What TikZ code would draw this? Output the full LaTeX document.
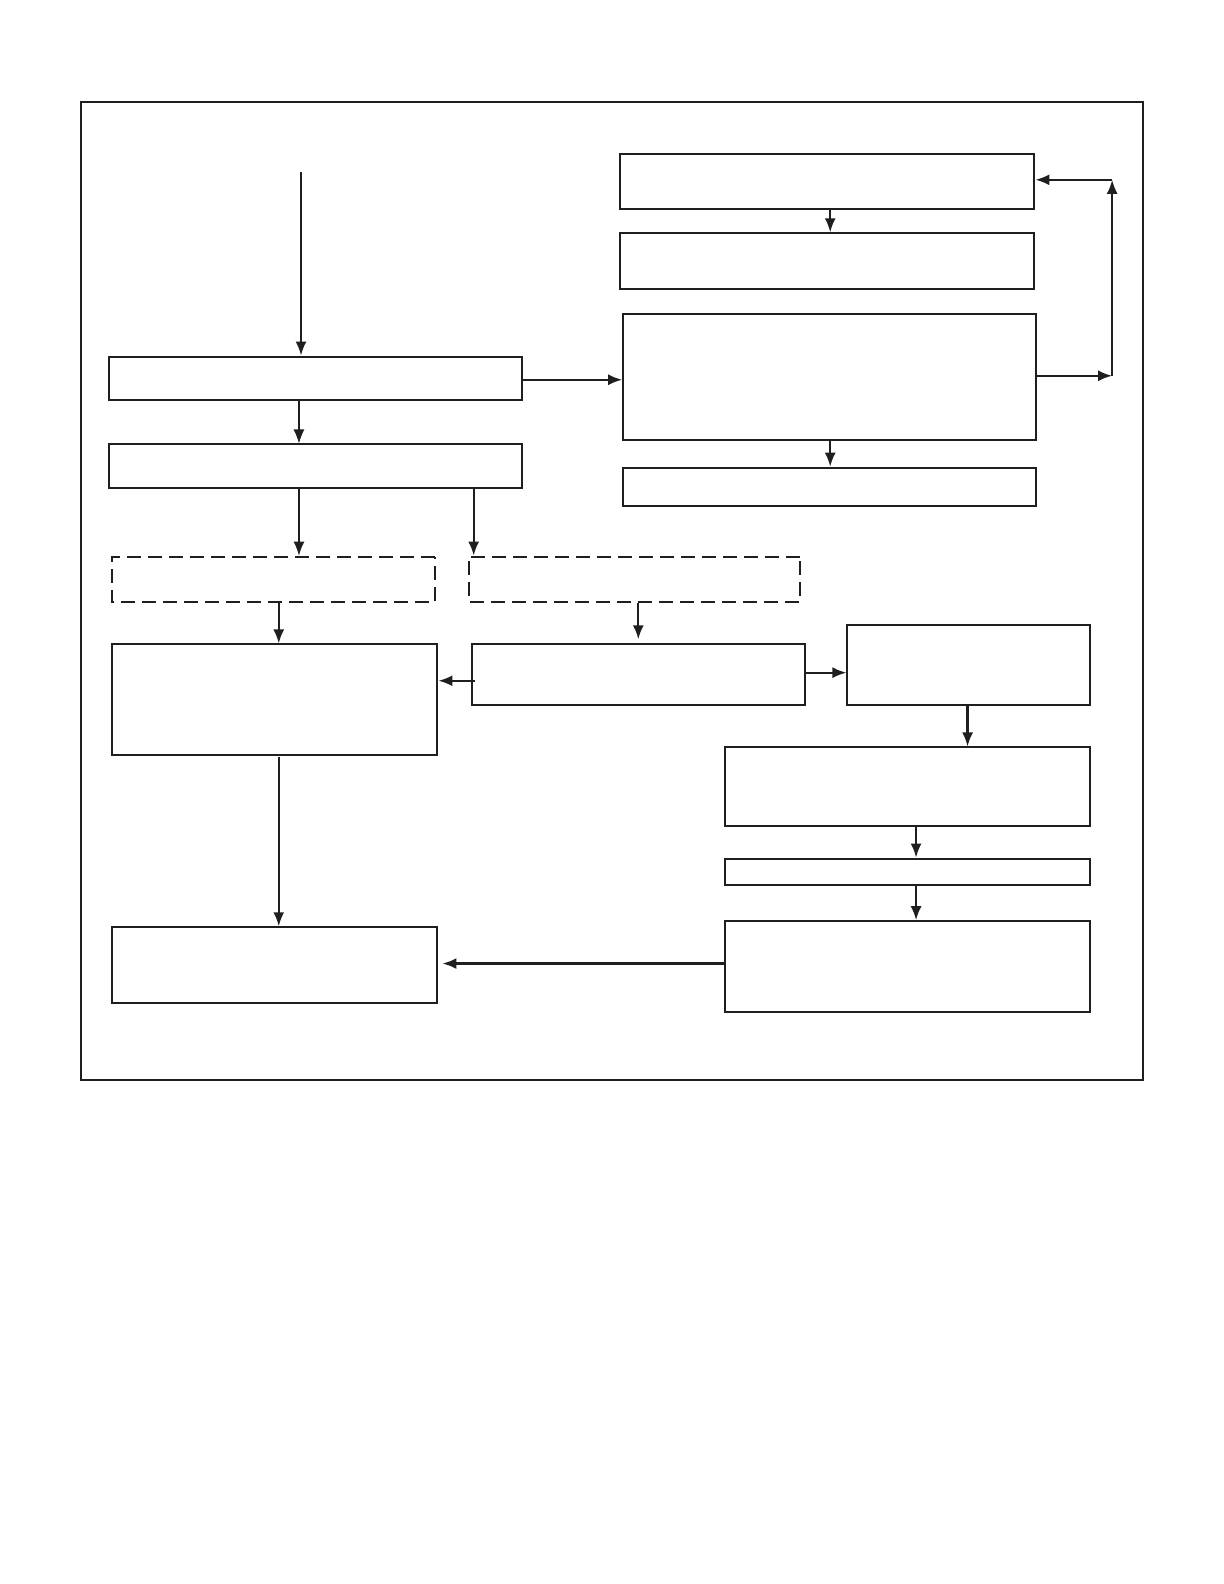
\documentclass[tikz,border=0pt]{standalone}
\usetikzlibrary{arrows.meta}

\begin{document}
\begin{tikzpicture}[x=0.5pt,y=-0.5pt,scale=1.01,every node/.append style={transform shape}]
            \tikzstyle{every node}+=[inner sep=0pt]
            \tikzstyle{box}=[draw, black!88, line width=1pt, rectangle]
            \tikzstyle{dbox}=[box, dash pattern=on 7pt off 3.5pt]
            \tikzstyle{arr}=[black!88, line width=1.1pt, -{Latex[length=7pt,width=5.5pt]}]
            \tikzstyle{thinarr}=[arr, line width=0.6pt]
            \useasboundingbox (0,0) rectangle (1211.88,1568.32);
            \draw [black!88, line width=1pt] (80,101) rectangle (1132,1069);
            % right column
            \node [box, minimum width=205pt, minimum height=27.5pt] (A1) at (819,179.5) {};
            \node [box, minimum width=205pt, minimum height=27.5pt] (A2) at (819,258.5) {};
            \node [box, minimum width=204.5pt, minimum height=62.5pt] (A3) at (821.5,373.5) {};
            \node [box, minimum width=204.5pt, minimum height=19pt] (A4) at (821.5,482) {};
            % left column
            \node [box, minimum width=204.5pt, minimum height=21.5pt] (L1) at (312.5,374.5) {};
            \node [box, minimum width=204.5pt, minimum height=21.5pt] (L2) at (312.5,461.5) {};
            \node [dbox, minimum width=160pt, minimum height=22.5pt] (D1) at (271,573.5) {};
            \node [dbox, minimum width=164pt, minimum height=22.5pt] (D2) at (628,573.5) {};
            \node [box, minimum width=161pt, minimum height=55pt] (M1) at (272,693) {};
            \node [box, minimum width=165pt, minimum height=30pt] (M2) at (632,668) {};
            \node [box, minimum width=161pt, minimum height=37.5pt] (B1) at (272,955.5) {};
            % lower right
            \node [box, minimum width=120pt, minimum height=39.5pt] (R1) at (959,658.5) {};
            \node [box, minimum width=180.5pt, minimum height=39pt] (R2) at (898.5,779) {};
            \node [box, minimum width=180.5pt, minimum height=13pt] (R3) at (898.5,863) {};
            \node [box, minimum width=180.5pt, minimum height=45pt] (R4) at (898.5,957) {};
            \coordinate (start) at (298,170);
            \coordinate (c1) at (1101,372);
            \coordinate (c2) at (1101,178);
            % connectors
            \draw [arr] (start) -- (L1.north -| start);
            \draw [thinarr] (L1.south -| 296,0) -- (L2.north -| 296,0);
            \draw [arr] (L1.east |- 0,376) -- (A3.west |- 0,376);
            \draw [arr] (A1.south -| 822,0) -- (A2.north -| 822,0);
            \draw [arr] (A3.south -| 822,0) -- (A4.north -| 822,0);
            \draw [arr] (A3.east |- c1) -- (c1);
            \draw [arr] (c1) -- (c2);
            \draw [arr] (c2) -- (A1.east |- c2);
            \draw [thinarr] (L2.south -| 296,0) -- (D1.north -| 296,0);
            \draw [arr] (L2.south -| 469,0) -- (D2.north -| 469,0);
            \draw [arr] (D1.south -| 276,0) -- (M1.north -| 276,0);
            \draw [arr] (D2.south -| 632,0) -- (632,633);
            \draw [arr] ([xshift=2pt]M2.west |- 0,674) -- (M1.east |- 0,674);
            \draw [arr] (M2.east |- 0,666) -- (R1.west |- 0,666);
            \draw [arr] (R1.south -| 958,0) -- (R2.north -| 958,0);
            \draw [arr] (R2.south -| 907,0) -- (R3.north -| 907,0);
            \draw [arr] (R3.south -| 907,0) -- (R4.north -| 907,0);
            \draw [arr] (M1.south -| 276,0) -- (B1.north -| 276,0);
            \draw [arr] (R4.west |- 0,954) -- ([xshift=2pt]B1.east |- 0,954);
        \end{tikzpicture}
\end{document}
